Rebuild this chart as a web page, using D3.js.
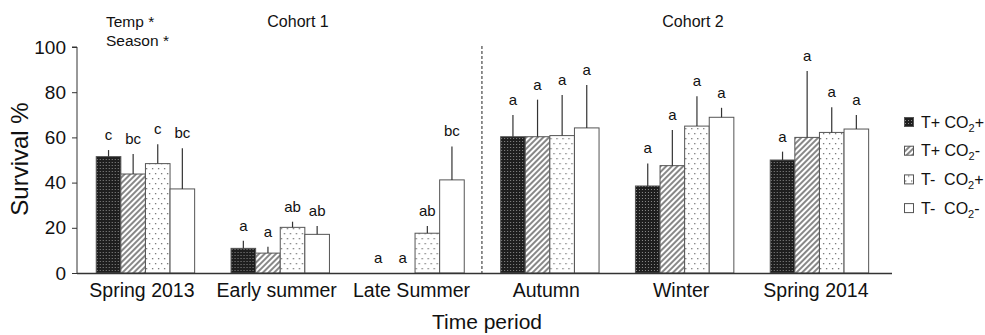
<!DOCTYPE html>
<html>
<head>
<meta charset="utf-8">
<script src="https://cdn.jsdelivr.net/npm/d3@7"></script>
<style>
  body { margin: 0; background: #fff; }
  svg text { font-family: "Liberation Sans", Arial, sans-serif; fill: #111; }
</style>
</head>
<body>
<svg id="chart"></svg>
<script>
// chart values
const periods = ['Spring 2013', 'Early summer', 'Late Summer', 'Autumn', 'Winter', 'Spring 2014'];
const treatments = ['tpcp', 'tpcm', 'tmcp', 'tmcm'];
const legendT = ['T+', 'T+', 'T- ', 'T- '];
const legendC = ['+', '-', '+', '-'];

// mean survival %
const meanTpCp = [51.5, 10.9, 0, 60.3, 38.5, 50.0];
const meanTpCm = [43.8, 8.8, 0, 60.3, 47.5, 60.0];
const meanTmCp = [48.4, 20.2, 17.6, 60.8, 65.0, 62.2];
const meanTmCm = [37.2, 17.1, 41.2, 64.2, 68.9, 63.7];

// standard error (upper bar only)
const seTpCp = [2.9, 3.4, 0, 9.6, 10.0, 3.7];
const seTpCm = [8.9, 2.8, 0, 16.4, 15.8, 29.4];
const seTmCp = [8.6, 2.5, 3.2, 18.0, 13.2, 11.1];
const seTmCm = [18.0, 3.7, 14.8, 19.0, 4.2, 6.2];

// post-hoc letters
const letTpCp = ['c', 'a', 'a', 'a', 'a', 'a'];
const letTpCm = ['bc', 'a', 'a', 'a', 'a', 'a'];
const letTmCp = ['c', 'ab', 'ab', 'a', 'a', 'a'];
const letTmCm = ['bc', 'ab', 'bc', 'a', 'a', 'a'];

const yTicks = [0, 20, 40, 60, 80, 100];

const means = [meanTpCp, meanTpCm, meanTmCp, meanTmCm];
const ses = [seTpCp, seTpCm, seTmCp, seTmCm];
const lets = [letTpCp, letTpCm, letTmCp, letTmCm];

const rows = [];
periods.forEach((p, i) => {
    treatments.forEach((t, j) => {
        rows.push({ period: p, treat: t, idx: j, mean: means[j][i], se: ses[j][i], letter: lets[j][i] });
    });
});

const width = 985, height = 335;
const margin = { top: 47, right: 93, bottom: 62, left: 77 };
const boundedWidth = width - margin.left - margin.right;
const boundedHeight = height - margin.top - margin.bottom;

const svg = d3.select('#chart')
    .attr('width', width)
    .attr('height', height);

// fill patterns
const defs = svg.append('defs');

const p1 = defs.append('pattern')
    .attr('id', 'pat-tpcp')
    .attr('patternUnits', 'userSpaceOnUse')
    .attr('width', 3).attr('height', 3);
p1.append('rect').attr('width', 3).attr('height', 3).attr('fill', '#1e1e1e');
p1.append('rect').attr('x', 1).attr('y', 1).attr('width', 1).attr('height', 1).attr('fill', '#8a8a8a');

const p2 = defs.append('pattern')
    .attr('id', 'pat-tpcm')
    .attr('patternUnits', 'userSpaceOnUse')
    .attr('width', 4).attr('height', 4)
    .attr('patternTransform', 'rotate(45)');
p2.append('rect').attr('width', 4).attr('height', 4).attr('fill', '#fff');
p2.append('line').attr('x1', 1).attr('x2', 1).attr('y1', 0).attr('y2', 4)
    .attr('stroke', '#6a6a6a').attr('stroke-width', 1.6);

const p3 = defs.append('pattern')
    .attr('id', 'pat-tmcp')
    .attr('patternUnits', 'userSpaceOnUse')
    .attr('width', 6).attr('height', 10);
p3.append('rect').attr('width', 6).attr('height', 10).attr('fill', '#fff');
p3.append('rect').attr('x', 1).attr('y', 1).attr('width', 1.3).attr('height', 1.3).attr('fill', '#777');
p3.append('rect').attr('x', 4).attr('y', 6).attr('width', 1.3).attr('height', 1.3).attr('fill', '#777');

const fills = { tpcp: 'url(#pat-tpcp)', tpcm: 'url(#pat-tpcm)', tmcp: 'url(#pat-tmcp)', tmcm: '#fff' };

// scales
const xScale = d3.scaleBand()
    .domain(periods)
    .range([0, boundedWidth])
    .paddingInner(0.27)
    .paddingOuter(0.158)
    .align(0.44);

const x1Scale = d3.scaleBand()
    .domain(treatments)
    .range([0, xScale.bandwidth()]);

const yScale = d3.scaleLinear()
    .domain([0, 100])
    .range([boundedHeight, 0]);

const bounds = svg.append('g')
    .attr('transform', `translate(${margin.left}, ${margin.top})`);

// cohort divider
const divX = (xScale('Late Summer') + xScale.bandwidth() + xScale('Autumn')) / 2;
bounds.append('line')
    .attr('x1', divX).attr('x2', divX)
    .attr('y1', yScale(100) - 1).attr('y2', yScale(0))
    .attr('stroke', '#222')
    .attr('stroke-width', 1)
    .attr('stroke-dasharray', '3,2');

// bars
const groups = bounds.append('g').selectAll('g')
    .data(rows)
    .join('g')
    .attr('transform', d => `translate(${xScale(d.period) + x1Scale(d.treat)}, 0)`);

groups.filter(d => d.mean > 0).append('rect')
    .attr('x', 0.5)
    .attr('y', d => yScale(d.mean))
    .attr('width', x1Scale.bandwidth())
    .attr('height', d => boundedHeight - yScale(d.mean))
    .attr('fill', d => fills[d.treat])
    .attr('stroke', '#555')
    .attr('stroke-width', 1);

// error bars
groups.filter(d => d.se > 0).append('line')
    .attr('x1', x1Scale.bandwidth() / 2 + 0.5)
    .attr('x2', x1Scale.bandwidth() / 2 + 0.5)
    .attr('y1', d => yScale(d.mean))
    .attr('y2', d => yScale(d.mean + d.se))
    .attr('stroke', '#333')
    .attr('stroke-width', 1.2);

// letters
groups.append('text')
    .attr('x', x1Scale.bandwidth() / 2 + 0.5)
    .attr('y', d => yScale(d.mean + d.se) - 10)
    .attr('text-anchor', 'middle')
    .style('font-size', '15px')
    .text(d => d.letter);

// axes
const yAxis = d3.axisLeft(yScale)
    .tickValues(yTicks)
    .tickSize(5)
    .tickPadding(6);

const yAxisG = bounds.append('g').call(yAxis);
yAxisG.select('.domain').attr('d', `M-5,${yScale(100)}H0V${yScale(0)}`).attr('stroke', '#333');
yAxisG.selectAll('.tick line').attr('stroke', '#333');
yAxisG.selectAll('.tick text').style('font-size', '19px').attr('fill', '#111');

bounds.append('line')
    .attr('x1', 0).attr('x2', 815)
    .attr('y1', boundedHeight + 0.5).attr('y2', boundedHeight + 0.5)
    .attr('stroke', '#333')
    .attr('stroke-width', 1.3);

bounds.append('g').selectAll('text')
    .data(periods)
    .join('text')
    .attr('x', d => xScale(d) + xScale.bandwidth() / 2 - 3)
    .attr('y', boundedHeight + 24)
    .attr('text-anchor', 'middle')
    .style('font-size', '19.5px')
    .text(d => d);

// axis titles
svg.append('text')
    .attr('x', 487)
    .attr('y', 329)
    .attr('text-anchor', 'middle')
    .style('font-size', '21px')
    .text('Time period');

svg.append('text')
    .attr('transform', 'translate(28, 159) rotate(-90)')
    .attr('text-anchor', 'middle')
    .style('font-size', '24px')
    .text('Survival %');

// annotations
svg.append('text').attr('x', 106).attr('y', 27).style('font-size', '15.5px').text('Temp *');
svg.append('text').attr('x', 106).attr('y', 46).style('font-size', '15.5px').text('Season *');
svg.append('text').attr('x', 298).attr('y', 27).attr('text-anchor', 'middle').style('font-size', '16px').text('Cohort 1');
svg.append('text').attr('x', 693).attr('y', 27).attr('text-anchor', 'middle').style('font-size', '16px').text('Cohort 2');

// legend
const legend = svg.append('g')
    .attr('transform', 'translate(904, 122)');

const items = legend.selectAll('g')
    .data(treatments)
    .join('g')
    .attr('transform', (d, i) => `translate(0, ${i * 28.7})`);

items.append('rect')
    .attr('x', 0.5).attr('y', -4.5)
    .attr('width', 9).attr('height', 9)
    .attr('fill', d => fills[d])
    .attr('stroke', '#555');

const lt = items.append('text')
    .attr('x', 17)
    .attr('y', 5.5)
    .style('font-size', '16px')
    .attr('xml:space', 'preserve');
lt.append('tspan').text((d, i) => legendT[i] + ' CO');
lt.append('tspan').attr('dy', 4).style('font-size', '11px').text('2');
lt.append('tspan').attr('dy', -4).text((d, i) => legendC[i]);
</script>
</body>
</html>
